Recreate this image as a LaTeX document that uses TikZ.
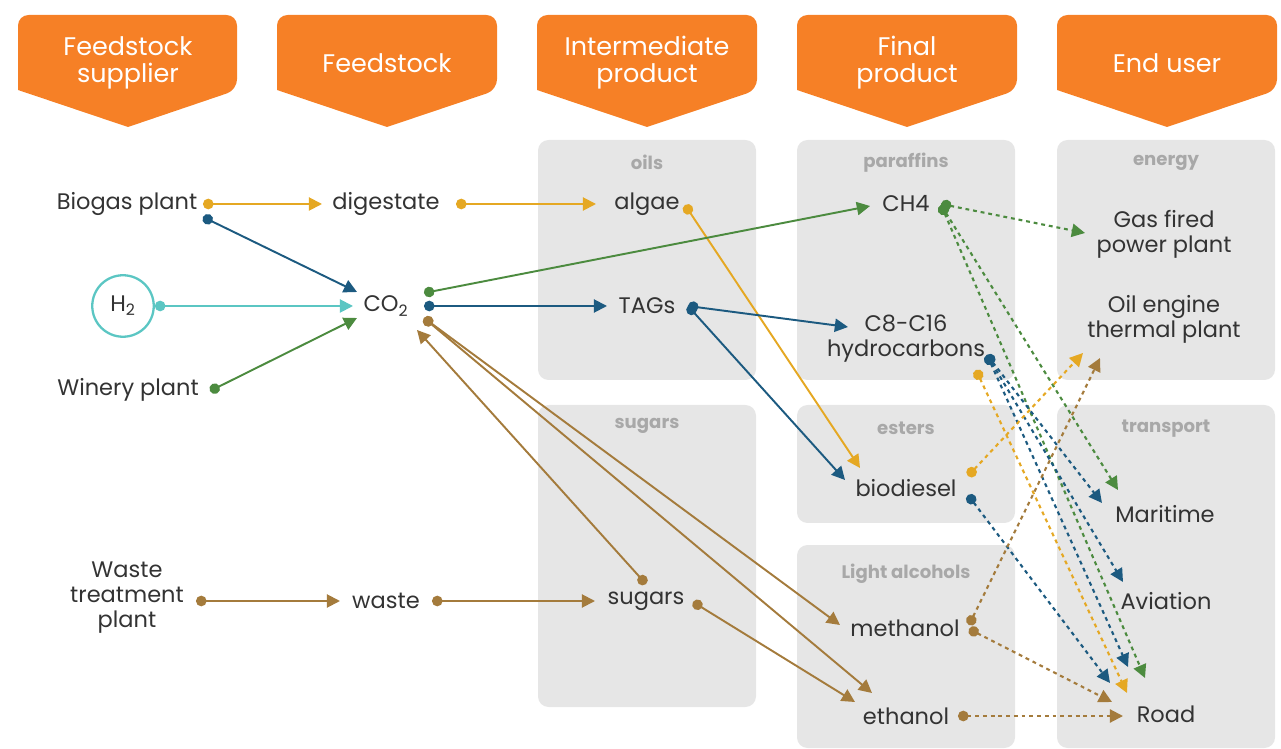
\documentclass[tikz,border=0pt]{standalone}
\usepackage{fontspec}
\setmainfont{Poppins}
\usepackage{tikz}
\usetikzlibrary{arrows.meta,calc}

\definecolor{orng}{HTML}{F68026}
\definecolor{ylw}{HTML}{E5A823}
\definecolor{blu}{HTML}{1C5A80}
\definecolor{cyn}{HTML}{5BC6C3}
\definecolor{grn}{HTML}{4C8B3F}
\definecolor{brn}{HTML}{A47B3C}
\definecolor{boxgray}{HTML}{E6E6E6}
\definecolor{grptxt}{HTML}{A8A8A8}
\definecolor{txt}{HTML}{333333}

\tikzset{
  item/.style={text=txt, font=\fontsize{12.8}{14.2}\selectfont, inner sep=0pt, align=center},
  hd/.style={text=white, font=\fontsize{14.5}{15.5}\selectfont, align=center},
  grp/.style={text=grptxt, font=\bfseries\fontsize{10.3}{12}\selectfont},
  flow/.style={line width=1.1pt, {Circle[length=6pt]}-{Triangle[length=7.5pt,width=7.5pt]}},
  dots/.style={flow, line width=1.2pt, dash pattern=on 2.2pt off 2.2pt},
}

\begin{document}
\begin{tikzpicture}[x=0.02cm,y=-0.02cm]
\useasboundingbox (0,0) rectangle (1281,749);
% column headers
\fill[orng] (18,90) [rounded corners=6pt] -- (18,15) -- (237,15) -- (237,90) [sharp corners] -- (128,127) -- cycle;
\fill[orng] (277,90) [rounded corners=6pt] -- (277,15) -- (497,15) -- (497,90) [sharp corners] -- (387,127) -- cycle;
\fill[orng] (537,90) [rounded corners=6pt] -- (537,15) -- (757,15) -- (757,90) [sharp corners] -- (647,127) -- cycle;
\fill[orng] (797,90) [rounded corners=6pt] -- (797,15) -- (1017,15) -- (1017,90) [sharp corners] -- (907,127) -- cycle;
\fill[orng] (1057,90) [rounded corners=6pt] -- (1057,15) -- (1277,15) -- (1277,90) [sharp corners] -- (1167,127) -- cycle;
\node[hd] (hd1) at (128,63) {Feedstock\\supplier};
\node[hd] (hd2) at (387,63) {Feedstock};
\node[hd] (hd3) at (647,63) {Intermediate\\product};
\node[hd] (hd4) at (907,63) {Final\\product};
\node[hd] (hd5) at (1167,63) {End user};
% grey groups
\fill[boxgray, rounded corners=6pt] (538,140) rectangle (756,380);
\fill[boxgray, rounded corners=6pt] (538,405) rectangle (756,707);
\fill[boxgray, rounded corners=6pt] (797,140) rectangle (1015,380);
\fill[boxgray, rounded corners=6pt] (797,405) rectangle (1015,523);
\fill[boxgray, rounded corners=6pt] (797,545) rectangle (1015,748);
\fill[boxgray, rounded corners=6pt] (1057,140) rectangle (1275,380);
\fill[boxgray, rounded corners=6pt] (1057,405) rectangle (1275,748);
\node[grp] (g-oils) at (647,162) {oils};
\node[grp] (g-sug) at (647,426) {sugars};
\node[grp] (g-par) at (906,163) {paraffins};
\node[grp] (g-est) at (906,428) {esters};
\node[grp] (g-alc) at (906,574) {Light alcohols};
\node[grp] (g-en) at (1166,163) {energy};
\node[grp] (g-tr) at (1166,429) {transport};
% items
\node[item] (biogas) at (127,204) {Biogas plant};
\node[item] (digestate) at (386,204) {digestate};
\node[item] (algae) at (647,204) {algae};
\node[item] (ch4) at (906,204) {CH4};
\node[item] (gasfired) at (1164,234) {Gas fired\\power plant};
\node[item, draw=cyn, line width=1.3pt, circle, minimum size=35pt] (h2) at (123,306) {H\textsubscript{2}};
\node[item] (co2) at (386,306) {CO\textsubscript{2}};
\node[item] (tags) at (647,306) {TAGs};
\node[item] (hydro) at (906,339) {C8-C16\\hydrocarbons};
\node[item] (oilengine) at (1164,319) {Oil engine\\thermal plant};
\node[item] (winery) at (128,390) {Winery plant};
\node[item] (biodiesel) at (906,488) {biodiesel};
\node[item] (maritime) at (1165,514) {Maritime};
\node[item] (wasteplant) at (127,598) {Waste\\treatment\\plant};
\node[item] (waste) at (386,601) {waste};
\node[item] (sugars) at (646,601) {sugars};
\node[item] (aviation) at (1166,601) {Aviation};
\node[item] (methanol) at (905,628) {methanol};
\node[item] (ethanol) at (906,716) {ethanol};
\node[item] (road) at (1166,714) {Road};
% solid links
\draw[flow, ylw] ($(biogas)+(76,0)$) -- ($(digestate)+(-64,0)$);
\draw[flow, blu] ($(biogas)+(76,13)$) -- ($(co2)+(-29,-14)$);
\draw[flow, cyn] (h2.east) -- ($(co2)+(-33,0)$);
\draw[flow, grn] ($(winery)+(82,1)$) -- ($(co2)+(-29,12)$);
\draw[flow, ylw] ($(digestate)+(70,0)$) -- ($(algae)+(-51,0)$);
\draw[flow, ylw] ($(algae)+(38,1)$) -- ($(biodiesel)+(-46,-20)$);
\draw[flow, grn] ($(co2)+(38,-13)$) -- ($(ch4)+(-36,2)$);
\draw[flow, blu] ($(co2)+(38,0)$) -- ($(tags)+(-40,0)$);
\draw[flow, brn] ($(co2)+(38,12)$) -- ($(methanol)+(-65,-3)$);
\draw[flow, brn] ($(co2)+(38,12)$) -- ($(ethanol)+(-34,-23)$);
\draw[flow, brn] ($(sugars)+(0,-17)$) -- ($(co2)+(31,24)$);
\draw[flow, blu] ($(tags)+(41,0)$) -- ($(hydro)+(-58,-12)$);
\draw[flow, blu] ($(tags)+(41,0)$) -- ($(biodiesel)+(-61,-8)$);
\draw[flow, brn] ($(wasteplant)+(69,3)$) -- ($(waste)+(-46,0)$);
\draw[flow, brn] ($(waste)+(46,0)$) -- ($(sugars)+(-51,0)$);
\draw[flow, brn] ($(sugars)+(47,1)$) -- ($(ethanol)+(-51,-14)$);
% dotted links
\draw[dots, grn] ($(ch4)+(35,0)$) -- ($(gasfired)+(-79,-1)$);
\draw[dots, grn] ($(ch4)+(35,1)$) -- ($(maritime)+(-47,-24)$);
\draw[dots, grn] ($(ch4)+(35,1)$) -- ($(road)+(-21,-36)$);
\draw[dots, blu] ($(hydro)+(81,16)$) -- ($(maritime)+(-63,-11)$);
\draw[dots, blu] ($(hydro)+(81,16)$) -- ($(aviation)+(-43,-19)$);
\draw[dots, blu] ($(hydro)+(81,16)$) -- ($(road)+(-38,-47)$);
\draw[dots, ylw] ($(hydro)+(70,31)$) -- ($(road)+(-39,-21)$);
\draw[dots, ylw] ($(biodiesel)+(62,-12)$) -- ($(oilengine)+(-81,34)$);
\draw[dots, blu] ($(biodiesel)+(62,7)$) -- ($(road)+(-56,-31)$);
\draw[dots, brn] ($(methanol)+(64,-3)$) -- ($(oilengine)+(-64,39)$);
\draw[dots, brn] ($(methanol)+(64,1)$) -- ($(road)+(-54,-12)$);
\draw[dots, brn] ($(ethanol)+(52,0)$) -- ($(road)+(-43,2)$);
\end{tikzpicture}
\end{document}
